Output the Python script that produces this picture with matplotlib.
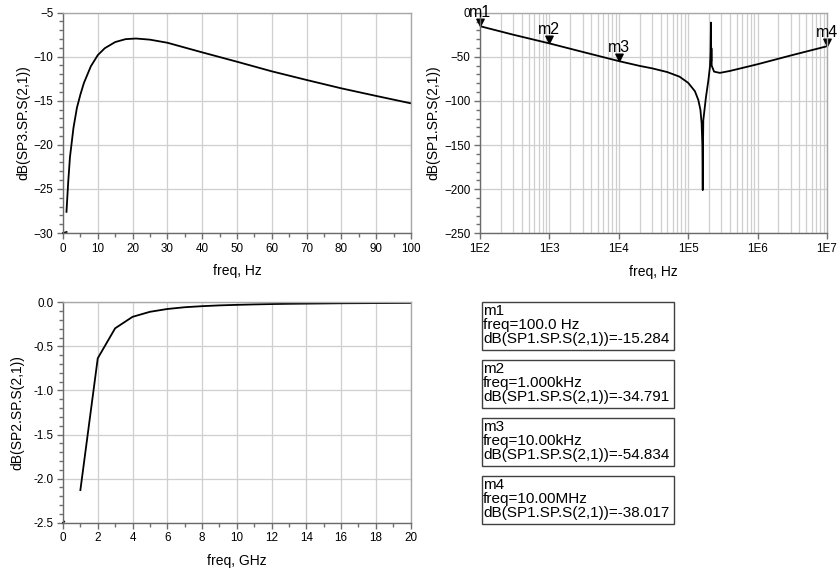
import matplotlib
matplotlib.use("Agg")
import matplotlib.pyplot as plt
import numpy as np
from matplotlib.ticker import MultipleLocator, FixedLocator, FuncFormatter, NullFormatter
from matplotlib.patches import Rectangle
from matplotlib.path import Path

# ---------------- data ----------------
# Top-left: dB(SP3.SP.S(2,1)) vs freq [Hz]
tl_freq = [1, 1.5, 2, 3, 4, 5, 6, 8, 10, 12, 15, 18, 21, 25, 30, 40, 50, 60, 70, 80, 90, 100]
tl_db = [-27.6, -24.2, -21.4, -18.1, -15.8, -14.3, -13.0, -11.1, -9.83, -9.05, -8.35, -8.02, -7.95,
         -8.08, -8.43, -9.52, -10.58, -11.67, -12.65, -13.6, -14.46, -15.3]
tl_stub_x = [0, 1.05]
tl_stub_y = [-30.0, -29.88]

# Top-right: dB(SP1.SP.S(2,1)) vs freq [Hz], log axis
tr_freq = [1e2, 3e2, 1e3, 3e3, 1e4, 2e4, 3e4, 5e4, 7.5e4, 1e5, 1.25e5, 1.4e5, 1.5e5, 1.56e5, 1.6e5,
           1.62e5, 1.635e5, 1.65e5, 1.8e5, 1.95e5, 2.06e5, 2.1e5, 2.13e5, 2.145e5, 2.16e5, 2.18e5,
           2.36e5, 2.86e5, 4e5, 1e6, 3e6, 1e7]
tr_db = [-15.284, -24.9, -34.791, -44.4, -54.834, -60.3, -63.0, -67.3, -72.5, -79.5, -89, -99, -110,
         -125, -150, -201, -150, -122, -96, -77, -61, -45, -11.2, -55, -40.3, -60,
         -66.8, -68.2, -66.0, -58.4, -48.5, -38.017]

# Markers
mk_names = ["m1", "m2", "m3", "m4"]
mk_freq = [1e2, 1e3, 1e4, 1e7]
mk_db = [-15.284, -34.791, -54.834, -38.017]
mk_freq_text = ["freq=100.0 Hz", "freq=1.000kHz", "freq=10.00kHz", "freq=10.00MHz"]
mk_val_text = ["dB(SP1.SP.S(2,1))=-15.284", "dB(SP1.SP.S(2,1))=-34.791",
               "dB(SP1.SP.S(2,1))=-54.834", "dB(SP1.SP.S(2,1))=-38.017"]

# Bottom-left: dB(SP2.SP.S(2,1)) vs freq [GHz]
bl_freq = list(range(1, 21))
bl_db = [-2.13, -0.635, -0.295, -0.165, -0.108, -0.076, -0.056, -0.044, -0.035, -0.029,
         -0.024, -0.020, -0.017, -0.015, -0.013, -0.011, -0.010, -0.009, -0.008, -0.007]
bl_stub_x = [0, 0.07]
bl_stub_y = [-2.5, -2.488]

# ---------------- style ----------------
W, H = 838, 571
plt.rcParams['font.family'] = ['Liberation Sans', 'DejaVu Sans']
fig = plt.figure(figsize=(W / 100, H / 100), dpi=100)

GRID = '#cfcfcf'
SPINE_DARK = '#6a6a6a'
SPINE_LIGHT = '#a8a8a8'
TICKC = '#707070'
TICK_FS = 8.4
LABEL_FS = 10


def px_axes(l, t, r, b):
    return fig.add_axes([l / W, 1 - b / H, (r - l) / W, (b - t) / H])


def style(ax):
    ax.grid(True, which='major', color=GRID, lw=0.9)
    ax.set_axisbelow(True)
    ax.spines['left'].set_color(SPINE_DARK)
    ax.spines['bottom'].set_color(SPINE_DARK)
    ax.spines['top'].set_color(SPINE_LIGHT)
    ax.spines['right'].set_color(SPINE_LIGHT)
    for s in ax.spines.values():
        s.set_linewidth(1.0)
    ax.tick_params(which='major', direction='out', length=4.5, width=1, color=TICKC,
                   labelsize=TICK_FS, pad=2.5)
    ax.tick_params(which='minor', direction='out', length=3, width=1, color=TICKC)


# ---- top-left ----
ax1 = px_axes(63, 12.5, 411, 233)
style(ax1)
ax1.plot(tl_freq, tl_db, color='black', lw=1.3)
ax1.plot(tl_stub_x, tl_stub_y, color='black', lw=1.2, clip_on=False)
ax1.set_xlim(0, 100)
ax1.set_ylim(-30, -5)
ax1.xaxis.set_major_locator(MultipleLocator(10))
ax1.xaxis.set_minor_locator(MultipleLocator(5))
ax1.yaxis.set_major_locator(MultipleLocator(5))
ax1.yaxis.set_minor_locator(MultipleLocator(1))
ax1.set_xlabel('freq, Hz', fontsize=LABEL_FS)
ax1.set_ylabel('dB(SP3.SP.S(2,1))', fontsize=LABEL_FS)
ax1.xaxis.set_label_coords(0.5, -0.14)
ax1.yaxis.set_label_coords(-0.095, 0.5)

# ---- top-right ----
ax2 = px_axes(480, 12.7, 827, 233.3)
style(ax2)
ax2.set_xscale('log')
ax2.plot(tr_freq, tr_db, color='black', lw=1.3)
ax2.set_xlim(1e2, 1e7)
ax2.set_ylim(-250, 0)
ax2.xaxis.set_major_locator(FixedLocator([1e2, 1e3, 1e4, 1e5, 1e6, 1e7]))
ax2.xaxis.set_major_formatter(FuncFormatter(lambda v, p: '1E%d' % round(np.log10(v))))
minor_x = [m * 10.0 ** d for d in range(2, 7) for m in range(2, 10)]
ax2.xaxis.set_minor_locator(FixedLocator(minor_x))
ax2.xaxis.set_minor_formatter(NullFormatter())
ax2.grid(True, which='minor', axis='x', color=GRID, lw=0.9)
ax2.tick_params(axis='x', which='minor', length=0)
ax2.yaxis.set_major_locator(MultipleLocator(50))
ax2.yaxis.set_minor_locator(MultipleLocator(10))
ax2.set_xlabel('freq, Hz', fontsize=LABEL_FS)
ax2.set_ylabel('dB(SP1.SP.S(2,1))', fontsize=LABEL_FS)
ax2.xaxis.set_label_coords(0.5, -0.143)
ax2.yaxis.set_label_coords(-0.115, 0.5)

tri = Path([(0, 0), (-0.5, 1.0), (0.5, 1.0), (0, 0)],
           [Path.MOVETO, Path.LINETO, Path.LINETO, Path.CLOSEPOLY])
ax2.plot(mk_freq, mk_db, linestyle='none', marker=tri, markersize=10.5,
         color='black', clip_on=False)
for name, f, v in zip(mk_names, mk_freq, mk_db):
    ax2.annotate(name, (f, v), xytext=(0, 6.5), textcoords='offset points',
                 ha='center', va='baseline', fontsize=11.5, annotation_clip=False)

# ---- bottom-left ----
ax3 = px_axes(63, 302.3, 410.5, 522.7)
style(ax3)
ax3.plot(bl_freq, bl_db, color='black', lw=1.3)
ax3.plot(bl_stub_x, bl_stub_y, color='black', lw=1.2, clip_on=False)
ax3.set_xlim(0, 20)
ax3.set_ylim(-2.5, 0.0)
ax3.xaxis.set_major_locator(MultipleLocator(2))
ax3.xaxis.set_minor_locator(MultipleLocator(1))
ax3.yaxis.set_major_locator(MultipleLocator(0.5))
ax3.yaxis.set_minor_locator(MultipleLocator(0.1))
ax3.yaxis.set_major_formatter(FuncFormatter(lambda v, p: '%.1f' % v if abs(v) > 1e-9 else '0.0'))
ax3.set_xlabel('freq, GHz', fontsize=LABEL_FS)
ax3.set_ylabel('dB(SP2.SP.S(2,1))', fontsize=LABEL_FS)
ax3.xaxis.set_label_coords(0.5, -0.142)
ax3.yaxis.set_label_coords(-0.11, 0.5)

# ---- marker readout boxes ----
box_left, box_w, box_h = 481.5, 192, 48
box_tops = [302, 360, 418, 476]
for top, name, ft, vt in zip(box_tops, mk_names, mk_freq_text, mk_val_text):
    fig.add_artist(Rectangle((box_left / W, 1 - (top + box_h) / H), box_w / W, box_h / H,
                             transform=fig.transFigure, facecolor='white',
                             edgecolor='#404040', lw=1.0))
    for k, txt in enumerate([name, ft, vt]):
        fig.text((box_left + 1.5) / W, 1 - (top + 13 + 14.2 * k) / H, txt,
                 fontsize=11, ha='left', va='baseline', color='black')

fig.savefig('out.png', dpi=100)
